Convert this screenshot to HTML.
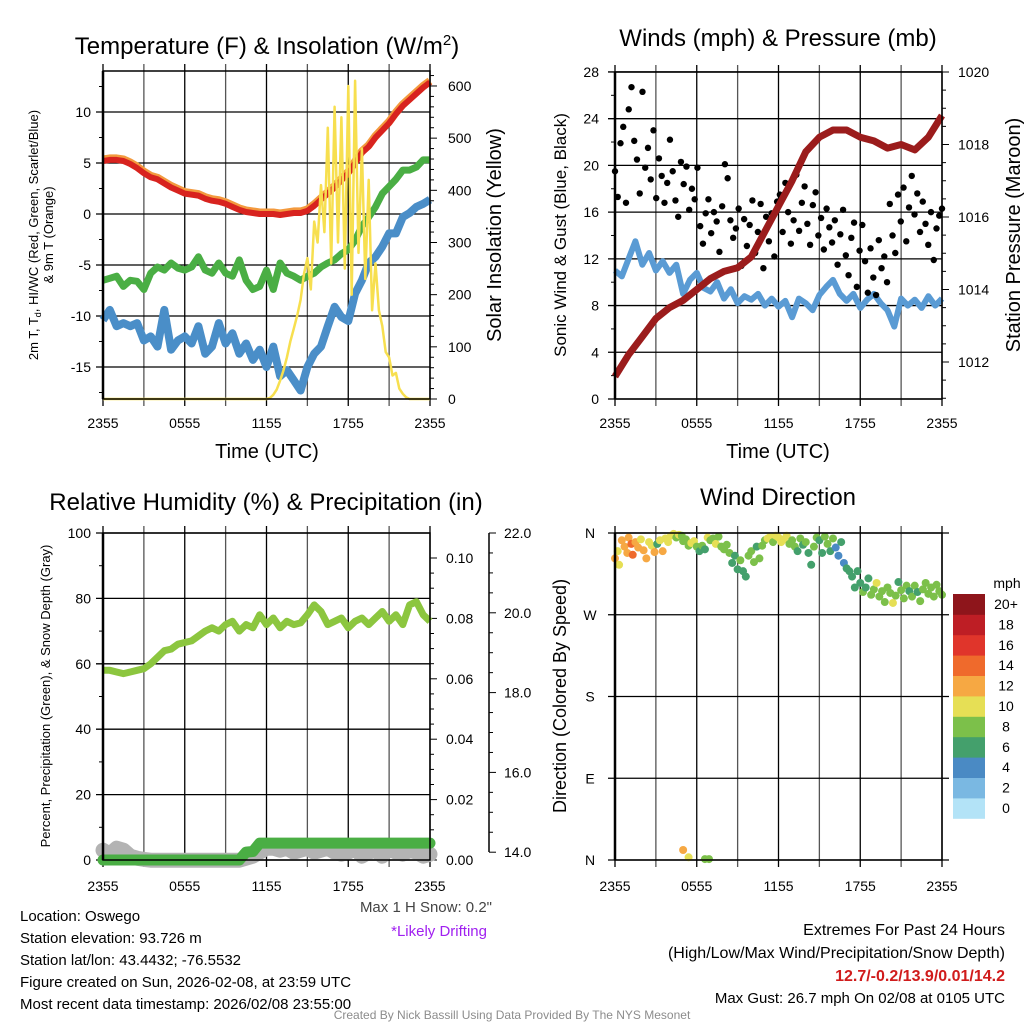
<!DOCTYPE html>
<html><head><meta charset="utf-8"><style>
html,body{margin:0;padding:0;background:#fff}
svg{display:block;font-family:"Liberation Sans",Arial,sans-serif}
</style></head><body>
<svg id="c" width="1024" height="1024" viewBox="0 0 1024 1024"></svg>
<script>
// ---------- DATA ----------
const halfHours = Array.from({length:49},(_,i)=>i*0.5);
const tempF = [5.2,5.3,5.3,5.2,4.9,4.5,4.0,3.6,3.4,3.0,2.6,2.3,2.0,1.9,1.8,1.5,1.3,1.2,1.0,0.7,0.4,0.2,0.1,0.0,0.0,0.0,-0.1,0.0,0.1,0.1,0.3,0.8,1.4,2.0,2.6,3.3,4.0,5.0,6.0,6.6,7.5,8.2,8.9,9.8,10.6,11.2,11.8,12.4,12.9];
const windChill = [-6.5,-6.3,-6.1,-7.1,-6.5,-6.6,-7.4,-5.8,-5.2,-5.5,-4.8,-5.3,-5.5,-5.2,-4.2,-5.5,-5.8,-4.8,-5.8,-6.1,-4.5,-6.5,-7.4,-7.1,-5.5,-7.4,-4.8,-5.8,-6.1,-6.5,-6.1,-5.8,-5.2,-4.8,-4.5,-3.9,-3.5,-2.6,-1.2,-0.3,0.7,2.0,2.7,3.4,4.3,4.3,4.6,5.3,5.3];
const dewpoint = [-10.4,-9.4,-11.0,-10.7,-11.0,-10.7,-12.4,-12.0,-13.0,-9.4,-13.3,-12.4,-12.0,-12.7,-11.0,-13.7,-13.0,-10.7,-12.7,-11.7,-13.7,-12.7,-14.3,-13.3,-15.0,-13.0,-15.9,-15.3,-16.3,-17.3,-15.0,-13.7,-13.0,-11.0,-9.1,-10.1,-10.5,-7.8,-6.5,-4.8,-4.2,-3.2,-1.9,-1.9,-0.3,0.1,0.7,1.0,1.4];
const solarStart = 12; // hours, 15-min steps
const solar = [0,2,8,18,35,55,80,110,135,160,190,240,270,210,340,300,410,320,520,260,560,300,540,250,600,200,610,280,480,230,420,170,260,170,140,90,80,45,50,20,10,3,0];
const pressHours = Array.from({length:25},(_,i)=>i);
const pressure = [1011.6,1012.2,1012.7,1013.2,1013.5,1013.7,1014.0,1014.3,1014.5,1014.6,1014.9,1015.6,1016.3,1017.0,1017.8,1018.2,1018.4,1018.4,1018.2,1018.1,1017.9,1018.0,1017.85,1018.2,1018.8];
const sonicWind = [11.0,10.5,12.0,13.5,11.5,12.5,11.0,11.8,10.8,11.5,9.0,10.2,10.8,9.5,9.2,10.0,8.6,9.4,8.2,8.8,8.5,9.0,8.0,8.6,7.9,8.4,7.0,8.6,8.2,7.6,8.9,9.6,10.2,9.0,8.4,9.0,7.8,8.5,9.0,8.2,7.6,6.2,8.6,8.0,8.5,7.8,8.8,8.0,8.6];
const gusts = [19.5,17.3,21.9,23.3,16.8,24.8,26.7,22.1,20.5,17.6,26.3,19.8,21.5,18.8,23.0,17.2,20.6,19.1,16.8,18.5,22.2,19.5,17.0,15.6,20.3,18.4,19.9,16.2,18.0,17.1,19.8,14.8,13.3,15.9,17.1,14.2,16.0,15.2,12.6,16.5,20.1,18.9,15.3,13.8,14.6,16.3,11.4,15.4,13.1,14.9,17.0,12.5,14.3,16.7,11.2,15.6,13.5,15.9,12.2,16.9,17.5,14.3,18.5,16.0,13.3,15.3,19.2,14.4,16.8,18.2,15.0,13.2,16.6,17.7,14.0,15.5,12.8,16.3,14.7,13.4,15.3,11.5,14.1,16.2,12.3,10.6,13.8,15.1,9.6,12.7,14.9,11.8,9.1,12.9,10.4,8.9,13.6,11.2,12.2,10.0,16.7,14.0,12.5,17.5,15.2,18.1,13.5,16.4,19.1,15.8,17.6,14.3,16.9,15.0,13.2,16.0,11.9,14.6,15.7,16.3];
const rh = [58,58,57.5,57,57.5,58,58.5,60,62,64,64.5,66,66.5,67,68.5,70,71,70,72,73,70,72,71,75,72,74,71,73,72,72.5,75,78,76,72,73,74,71,73,74,72,74,76,73,75,72,78,79,75,73];
const precip = [0,0,0,0,0,0,0,0,0,0,0,0,0,0,0,0,0,0,0,0,0,0.0026,0.0028,0.0056,0.0056,0.0056,0.0056,0.0056,0.0056,0.0056,0.0056,0.0056,0.0056,0.0056,0.0056,0.0056,0.0056,0.0056,0.0056,0.0056,0.0056,0.0056,0.0056,0.0056,0.0056,0.0056,0.0056,0.0056,0.0056];
const snowDepth = [14.05,13.95,14.1,14.05,13.9,13.85,13.82,13.8,13.8,13.8,13.8,13.8,13.8,13.8,13.8,13.8,13.8,13.8,13.8,13.8,13.8,13.85,13.9,14.0,14.1,14.1,14.05,14.1,14.0,14.05,14.1,14.0,14.05,14.1,14.0,13.95,14.0,14.1,13.9,14.0,14.05,13.9,14.1,14.0,13.95,14.05,14.0,13.9,13.95];
const dirTimes = [0.0,0.2,0.3,0.5,0.7,0.9,1.0,1.2,1.3,1.5,1.7,1.9,2.1,2.3,2.5,2.7,2.9,3.1,3.3,3.5,3.7,3.9,4.1,4.3,4.5,4.7,4.9,5.0,5.2,5.4,5.6,5.8,6.0,6.2,6.4,6.6,6.8,7.0,7.2,7.4,7.6,7.8,8.0,8.2,8.4,8.6,8.8,9.0,9.2,9.4,9.6,9.8,10.0,10.2,10.4,10.6,10.8,11.0,11.2,11.4,11.6,11.8,12.0,12.2,12.4,12.6,12.8,13.0,13.2,13.4,13.6,13.8,14.0,14.2,14.4,14.6,14.8,15.0,15.2,15.4,15.6,15.8,16.0,16.2,16.4,16.6,16.8,17.0,17.2,17.4,17.6,17.8,18.0,18.2,18.4,18.6,18.8,19.0,19.2,19.4,19.6,19.8,20.0,20.2,20.4,20.6,20.8,21.0,21.2,21.4,21.6,21.8,22.0,22.2,22.4,22.6,22.8,23.0,23.2,23.4,23.6,23.8,24.0,5.0,5.4,6.6,6.9];
const dirValues = [332,340,325,352,345,338,355,348,336,350,344,353,341,332,350,346,339,348,352,340,354,350,357,359,355,358,357,351,353,346,349,351,345,340,346,342,355,352,354,348,356,345,342,347,338,327,335,320,330,318,312,335,340,328,345,332,346,352,354,356,350,357,355,350,353,357,348,352,345,340,354,347,350,338,325,345,355,352,338,356,348,340,354,344,335,350,327,321,318,312,300,318,305,295,300,310,292,298,305,290,296,284,300,294,283,291,306,297,288,302,296,290,302,295,285,298,305,293,300,290,303,296,292,11,3,1,1];
const dirSpeeds = [12,11,10,12,13,12,13,14,15,12,12,11,12,12,11,10,12,7,10,12,10,10,10,10,9,10,8,8,8,8,10,10,8,7,8,6,10,8,8,10,8,8,8,8,8,6,7,6,8,7,6,8,8,8,7,8,9,8,10,10,9,10,10,10,10,10,8,8,8,7,8,7,8,6,6,8,8,7,7,8,8,7,8,4,4,7,4,6,6,7,7,6,6,8,7,6,8,8,10,8,8,8,8,8,10,8,6,8,8,8,6,8,8,7,8,8,8,8,8,8,8,8,8,12,10,8,8];
const speedLevels = ["0","2","4","6","8","10","12","14","16","18","20+"];
const speedColors = ["#b3e3f7","#7ab8e2","#4a8ac4","#44a06c","#7cc04a","#e6df55","#f6a843","#ef6a2c","#e0352b","#be1e25","#8e151b"];
const xTickLabels = ["2355","0555","1155","1755","2355"];

// ---------- HELPERS ----------
const NS="http://www.w3.org/2000/svg";
const svg=document.getElementById('c');
function mk(tag,attrs,parent){const e=document.createElementNS(NS,tag);for(const k in attrs)e.setAttribute(k,attrs[k]);(parent||svg).appendChild(e);return e;}
function txt(s,x,y,size,anchor,parent,extra){const e=mk('text',Object.assign({x:x,y:y,'font-size':size,'text-anchor':anchor||'middle',fill:'#000'},extra||{}),parent);e.textContent=s;return e;}
function line(x1,y1,x2,y2,stroke,w,parent){return mk('line',{x1,y1,x2,y2,stroke,'stroke-width':w},parent);}
function path(pts){return pts.map((p,i)=>(i?'L':'M')+p[0].toFixed(1)+' '+p[1].toFixed(1)).join(' ');}

function panelFrame(g,x0,x1,y0,y1){
  for(let h=0;h<=24;h+=3){const x=x0+(x1-x0)*h/24;
    const l=line(x,y0-7,x,y1+7,h%6===0?'#000':'#555',1.3,g);
    
    }
}
function xLabels(g,x0,x1,y){
  xTickLabels.forEach((s,i)=>{const t=txt(s,x0+(x1-x0)*i/4,y,14,'middle',g);
    
    });
}
function border(g,x0,x1,y0,y1){
  const r=mk('rect',{x:x0,y:y0,width:x1-x0,height:y1-y0,fill:'none',stroke:'#000','stroke-width':1.5},g);
  
  
  line(x0,y0,x0,y1,'#000',2.5,g);
}

// ========== PANEL 1 ==========
{
const g=mk('g',{});


const X0=103,X1=430,Y0=71,Y1=399;
const xs=t=>X0+(X1-X0)*t/24;
const ys=v=>214-v*10.2;
const yr=w=>399-w*0.5217;
panelFrame(g,X0,X1,Y0,Y1);
[10,5,0,-5,-10,-15].forEach(v=>{line(X0-7,ys(v),X1,ys(v),'#000',1.3,g);
  const t=txt(String(v),X0-12,ys(v)+5,14,'end',g);
  
  });
[12.5,7.5,2.5,-2.5,-7.5,-12.5,-17.5].forEach(v=>line(X0-4,ys(v),X0,ys(v),'#000',1,g));
for(let w=0;w<=620;w+=20){line(X1,yr(w),X1+(w%100===0?7:4),yr(w),'#000',1,g);}
[0,100,200,300,400,500,600].forEach(w=>{const t=txt(String(w),X1+18,yr(w)+5,14,'start',g);
  
  });
xLabels(g,X0,X1,428);
const o=mk('path',{d:path(halfHours.map((t,i)=>[xs(t),ys(tempF[i]+0.15)])),fill:'none',stroke:'#f39a3e','stroke-width':8,'stroke-linejoin':'round'},g);


const r=mk('path',{d:path(halfHours.map((t,i)=>[xs(t),ys(tempF[i])])),fill:'none',stroke:'#d8231f','stroke-width':6,'stroke-linejoin':'round'},g);


const gr=mk('path',{d:path(halfHours.map((t,i)=>[xs(t),ys(windChill[i])])),fill:'none',stroke:'#4aae44','stroke-width':7,'stroke-linejoin':'round'},g);


const b=mk('path',{d:path(halfHours.map((t,i)=>[xs(t),ys(dewpoint[i])])),fill:'none',stroke:'#4a8ec8','stroke-width':8,'stroke-linejoin':'round'},g);


const sp=[[xs(0),yr(0)],[xs(solarStart),yr(0)]].concat(solar.map((w,i)=>[xs(solarStart+i*0.25),yr(w)])).concat([[xs(24),yr(0)]]);
const s=mk('path',{d:path(sp),fill:'none',stroke:'#f7df4f','stroke-width':2.5,'stroke-linejoin':'round'},g);


border(g,X0,X1,Y0,Y1);
const t1=mk('text',{x:267,y:54,'font-size':24,'text-anchor':'middle'},g);
t1.innerHTML='Temperature (F) &amp; Insolation (W/m<tspan dy="-9" font-size="15">2</tspan><tspan dy="9">)</tspan>';


const xt=txt('Time (UTC)',267,458,20,'middle',g);


const yl=mk('text',{transform:'translate(38,235) rotate(-90)','font-size':13,'text-anchor':'middle'},g);
yl.innerHTML='2m T, T<tspan dy="3" font-size="9">d</tspan><tspan dy="-3">, HI/WC (Red, Green, Scarlet/Blue)</tspan>';


const yl2=mk('text',{transform:'translate(53,235) rotate(-90)','font-size':13,'text-anchor':'middle'},g);
yl2.textContent='& 9m T (Orange)';


const yr2=mk('text',{transform:'translate(501,235) rotate(-90)','font-size':20,'text-anchor':'middle'},g);
yr2.textContent='Solar Insolation (Yellow)';


}

// ========== PANEL 2 ==========
{
const g=mk('g',{});


const X0=615,X1=942,Y0=72,Y1=399;
const xs=t=>X0+(X1-X0)*t/24;
const ys=v=>399-v*11.68;
const yp=p=>72+(1020-p)*36.25;
panelFrame(g,X0,X1,Y0,Y1);
for(let v=0;v<=28;v+=4){line(X0-7,ys(v),X1,ys(v),'#000',1.3,g);
  const t=txt(String(v),X0-16,ys(v)+5,14,'end',g);
  
  }
for(let v=2;v<28;v+=4)line(X0-4,ys(v),X0,ys(v),'#000',1,g);
for(let p=1011;p<=1020;p+=0.5){if(yp(p)>Y1)continue;line(X1,yp(p),X1+(p%2===0?7:4),yp(p),'#000',1,g);}
[1012,1014,1016,1018,1020].forEach(p=>{const t=txt(String(p),X1+16,yp(p)+5,14,'start',g);
  
  });
xLabels(g,X0,X1,428);
const b=mk('path',{d:path(halfHours.map((t,i)=>[xs(t),ys(sonicWind[i])])),fill:'none',stroke:'#5a9bd4','stroke-width':6,'stroke-linejoin':'round'},g);


gusts.forEach((v,i)=>{const c=mk('circle',{cx:xs(i*24/(gusts.length-1)),cy:ys(v),r:3.2,fill:'#000'},g);
  
  });
const p=mk('path',{d:path(pressHours.map((t,i)=>[xs(t),yp(pressure[i])])),fill:'none',stroke:'#9b1c1c','stroke-width':7,'stroke-linejoin':'round'},g);


border(g,X0,X1,Y0,Y1);
const t1=txt('Winds (mph) & Pressure (mb)',778,46,24,'middle',g);


const xt=txt('Time (UTC)',778,458,20,'middle',g);


const yl=mk('text',{transform:'translate(566,235) rotate(-90)','font-size':17,'text-anchor':'middle'},g);
yl.textContent='Sonic Wind & Gust (Blue, Black)';


const yr2=mk('text',{transform:'translate(1020,235) rotate(-90)','font-size':20,'text-anchor':'middle'},g);
yr2.textContent='Station Pressure (Maroon)';


}

// ========== PANEL 3 ==========
{
const g=mk('g',{});


const X0=103,X1=430,Y0=533,Y1=860;
const xs=t=>X0+(X1-X0)*t/24;
const ys=v=>860-v*3.27;
const yq=q=>860-q*3020;
const yd=d=>533+(22-d)*39.9;
panelFrame(g,X0,X1,Y0,Y1);
for(let v=0;v<=100;v+=20){line(X0-7,ys(v),X1,ys(v),'#000',1.3,g);
  const t=txt(String(v),X0-12,ys(v)+5,14,'end',g);
  
  }
for(let v=10;v<100;v+=20)line(X0-4,ys(v),X0,ys(v),'#000',1,g);
for(let q=0;q<=0.105;q+=0.005){line(X1,yq(q),X1+(Math.round(q*1000)%20===0?7:4),yq(q),'#000',1,g);}
[0,0.02,0.04,0.06,0.08,0.10].forEach(q=>{const t=txt(q.toFixed(2),X1+16,yq(q)+5,14,'start',g);
  
  });
const ax=line(489,533,489,852,'#000',1.5,g);


for(let d=14;d<=22.001;d+=0.5){line(489,yd(d),489+(Math.round(d*10)%20===0?7:4),yd(d),'#000',1,g);}
[14,16,18,20,22].forEach(d=>{const t=txt(d.toFixed(1),504,yd(d)+5,14,'start',g);
  
  });
xLabels(g,X0,X1,891);
const sd=mk('path',{d:path(halfHours.map((t,i)=>[xs(t),yd(snowDepth[i])])),fill:'none',stroke:'#b3b3b3','stroke-width':15,'stroke-linejoin':'round','stroke-linecap':'round'},g);


const pr=mk('path',{d:path(halfHours.map((t,i)=>[xs(t),yq(precip[i])])),fill:'none',stroke:'#4aae44','stroke-width':11,'stroke-linejoin':'round','stroke-linecap':'round'},g);


const rl=mk('path',{d:path(halfHours.map((t,i)=>[xs(t),ys(rh[i])])),fill:'none',stroke:'#8cc63f','stroke-width':7,'stroke-linejoin':'round'},g);


border(g,X0,X1,Y0,Y1);
const t1=txt('Relative Humidity (%) & Precipitation (in)',266,510,24,'middle',g);


const yl=mk('text',{transform:'translate(50,696) rotate(-90)','font-size':13,'text-anchor':'middle'},g);
yl.textContent='Percent, Precipitation (Green), & Snow Depth (Gray)';


const ms=txt('Max 1 H Snow: 0.2"',492,912,15,'end',g,{fill:'#444'});


const ld=txt('*Likely Drifting',487,936,15,'end',g,{fill:'#a020f0'});


}

// ========== PANEL 4 ==========
{
const g=mk('g',{});


const X0=615,X1=942,Y0=533,Y1=860;
const xs=t=>X0+(X1-X0)*t/24;
const ys=d=>860-d*(Y1-Y0)/360;
panelFrame(g,X0,X1,Y0,Y1);
const dl=['N','E','S','W','N'];
[0,90,180,270,360].forEach((d,i)=>{line(X0-7,ys(d),X1+7,ys(d),'#000',1.3,g);
  const t=txt(dl[i],590,ys(d)+5,14,'middle',g);
  
  });
xLabels(g,X0,X1,891);
dirTimes.forEach((t,i)=>{const k=Math.min(10,Math.floor(dirSpeeds[i]/2));
  const c=mk('circle',{cx:xs(t),cy:ys(dirValues[i]),r:4,fill:speedColors[k]},g);
  
  });
border(g,X0,X1,Y0,Y1);
const t1=txt('Wind Direction',778,505,24,'middle',g);


const yl=mk('text',{transform:'translate(566,696) rotate(-90)','font-size':18,'text-anchor':'middle'},g);
yl.textContent='Direction (Colored By Speed)';


const cb=mk('g',{},g);


const mph=txt('mph',1007,588,14,'middle',cb);


speedLevels.forEach((s,i)=>{const j=10-i;const y=594+j*20.4;
  const r=mk('rect',{x:953,y:y,width:32,height:20.8,fill:speedColors[i]},cb);
  
  
  const t=txt(s,1006,y+15,14,'middle',cb);
  
  });
}

// ========== FOOTER TEXT ==========
{
const g=mk('g',{});


['Location: Oswego','Station elevation: 93.726 m','Station lat/lon: 43.4432; -76.5532','Figure created on Sun, 2026-02-08, at 23:59 UTC','Most recent data timestamp: 2026/02/08 23:55:00'].forEach((s,i)=>{
  const t=txt(s,20,921+i*22,15,'start',g);
  
  });
const e1=txt('Extremes For Past 24 Hours',1005,935,16,'end',g);


const e2=txt('(High/Low/Max Wind/Precipitation/Snow Depth)',1005,958,16,'end',g);


const e3=txt('12.7/-0.2/13.9/0.01/14.2',1005,981,16,'end',g,{fill:'#d01c1c','font-weight':'bold'});


const e4=txt('Max Gust: 26.7 mph On 02/08 at 0105 UTC',1005,1003,15,'end',g);


const cr=txt('Created By Nick Bassill Using Data Provided By The NYS Mesonet',512,1019,12,'middle',g,{fill:'#8c8c8c'});


}
</script>
</body></html>
